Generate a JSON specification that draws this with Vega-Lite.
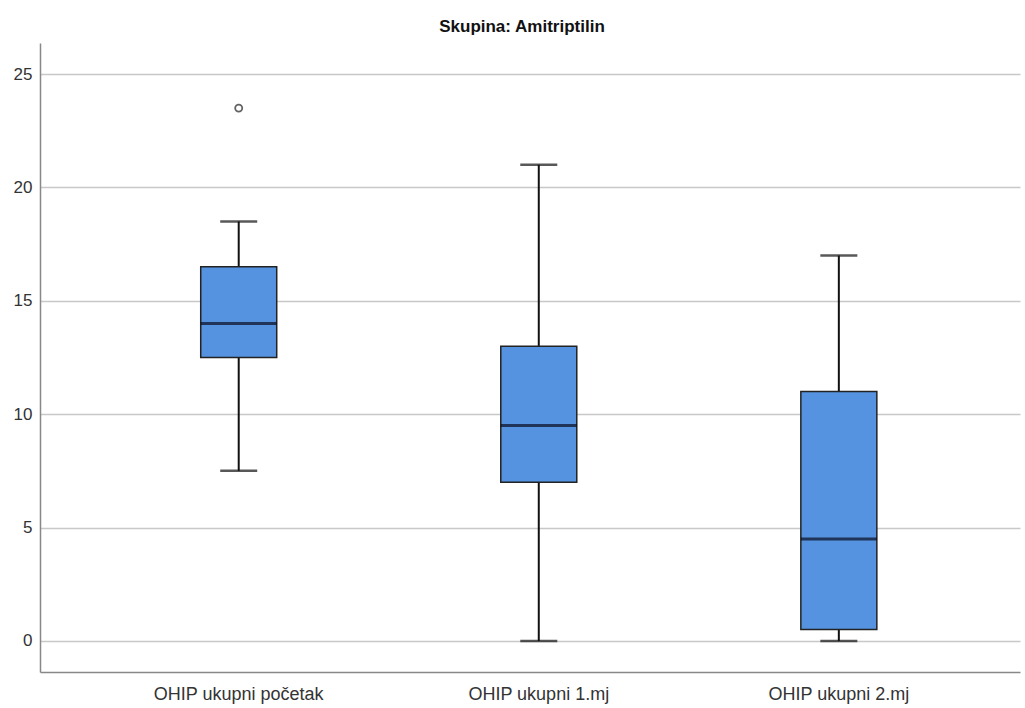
{
  "$schema": "https://vega.github.io/schema/vega-lite/v6.json",
  "autosize": "none",
  "width": 980,
  "height": 629,
  "padding": {"left": 40, "top": 43, "right": 5, "bottom": 36},
  "background": "white",
  "title": {"text": "Skupina: Amitriptilin", "fontSize": 17, "font": "Liberation Sans", "fontWeight": "bold", "color": "#111", "anchor": "middle", "dx": -8, "offset": 7},
  "datasets": {
    "boxes": [
      {"group": "OHIP ukupni početak", "min": 7.5, "q1": 12.5, "median": 14, "q3": 16.5, "max": 18.5},
      {"group": "OHIP  ukupni 1.mj", "min": 0, "q1": 7, "median": 9.5, "q3": 13, "max": 21},
      {"group": "OHIP  ukupni 2.mj", "min": 0, "q1": 0.5, "median": 4.5, "q3": 11, "max": 17}
    ],
    "outliers": [
      {"group": "OHIP ukupni početak", "value": 23.5}
    ]
  },
  "config": {
    "view": {"stroke": null},
    "axis": {"labelFont": "Liberation Sans", "labelFontSize": 18, "labelColor": "#333"}
  },
  "encoding": {
    "x": {"field": "group", "type": "nominal", "sort": null,
      "scale": {"domain": ["OHIP ukupni početak", "OHIP  ukupni 1.mj", "OHIP  ukupni 2.mj"], "paddingInner": 0, "paddingOuter": 0.133, "align": 0.61},
      "axis": {"title": null, "ticks": false, "labelAngle": 0, "labelPadding": 13, "domainColor": "#888", "domainWidth": 1.5, "grid": false}}
  },
  "layer": [
    {
      "data": {"name": "boxes"},
      "mark": {"type": "rule", "color": "#111", "strokeWidth": 2},
      "encoding": {
        "y": {"field": "min", "type": "quantitative",
          "scale": {"domain": [-1.37, 26.37], "nice": false, "zero": false},
          "axis": {"title": null, "values": [0, 5, 10, 15, 20, 25], "ticks": false, "labelPadding": 8, "labelFontSize": 17, "domainColor": "#888", "domainWidth": 1.5, "gridColor": "#c8c8c8", "gridWidth": 1.5}},
        "y2": {"field": "max"}
      }
    },
    {
      "data": {"name": "boxes"},
      "mark": {"type": "bar", "size": 76, "color": "#5593e0", "stroke": "#222", "strokeWidth": 1.5},
      "encoding": {
        "y": {"field": "q1", "type": "quantitative"},
        "y2": {"field": "q3"}
      }
    },
    {
      "data": {"name": "boxes"},
      "mark": {"type": "tick", "size": 76, "thickness": 3, "color": "#0a0a1e"},
      "encoding": {"y": {"field": "median", "type": "quantitative"}}
    },
    {
      "data": {"name": "boxes"},
      "mark": {"type": "tick", "size": 37, "thickness": 2.5, "color": "#111"},
      "encoding": {"y": {"field": "min", "type": "quantitative"}}
    },
    {
      "data": {"name": "boxes"},
      "mark": {"type": "tick", "size": 37, "thickness": 2.5, "color": "#111"},
      "encoding": {"y": {"field": "max", "type": "quantitative"}}
    },
    {
      "data": {"name": "outliers"},
      "mark": {"type": "point", "shape": "circle", "size": 50, "filled": false, "stroke": "#222", "strokeWidth": 1.8},
      "encoding": {"y": {"field": "value", "type": "quantitative"}}
    }
  ]
}
